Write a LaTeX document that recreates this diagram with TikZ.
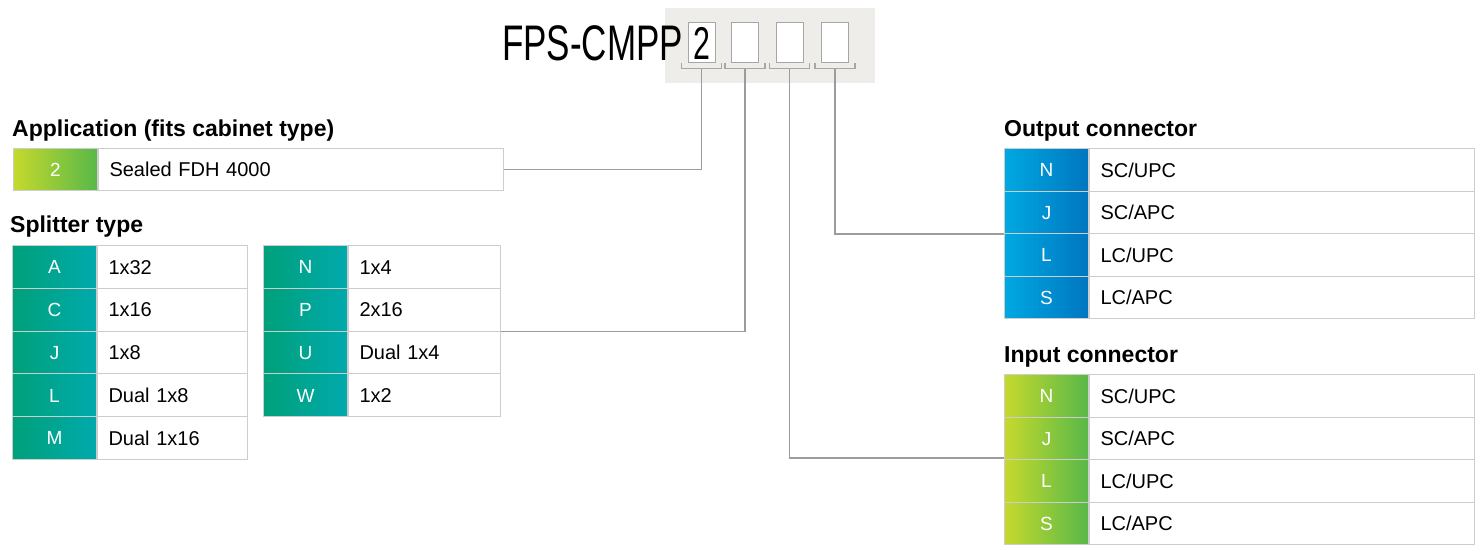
\documentclass[tikz,border=0pt]{standalone}
\usepackage{fontspec}
\setmainfont{Liberation Sans}
\definecolor{bgtitle}{HTML}{EFEDEA}
\definecolor{boxline}{HTML}{A6A6A6}
\definecolor{cellline}{HTML}{CDCDCD}
\definecolor{conn}{HTML}{9C9C9C}
\definecolor{grL}{HTML}{C6D92D}
\definecolor{grR}{HTML}{58B849}
\definecolor{tlL}{HTML}{00A07A}
\definecolor{tlR}{HTML}{00AAAC}
\definecolor{blL}{HTML}{00A8E2}
\definecolor{blR}{HTML}{0076C0}
\newcommand\titlefnt{\fontsize{50}{56}\selectfont}
\newcommand\twofnt{\fontsize{46}{52}\selectfont}
\newcommand\headfnt{\fontsize{23}{27}\selectfont\bfseries}
\newcommand\bodyfnt{\fontsize{20}{24}\selectfont}
\newcommand\codefnt{\fontsize{19}{23}\selectfont}
\begin{document}
\begin{tikzpicture}[x=1pt,y=-1pt,
  codecell/.style={draw=cellline, line width=1pt, anchor=north west, inner sep=0pt,
    minimum width=84, text=white, font=\codefnt, text height=13.5, text depth=0},
  desccell/.style={draw=cellline, line width=1pt, fill=white, anchor=north west,
    inner xsep=11, inner ysep=0, align=left, font=\bodyfnt, text height=14.5, text depth=0},
  green/.style={left color=grL, right color=grR},
  teal/.style={left color=tlL, right color=tlR},
  blue/.style={left color=blL, right color=blR},
  heading/.style={anchor=base west, inner sep=0pt, font=\headfnt},
  pbox/.style={draw=boxline, line width=1pt, fill=white, minimum width=27, minimum height=40, inner sep=0pt},
  bracket/.style={draw=boxline, line width=1.2pt},
  connector/.style={draw=conn, line width=1.2pt}]
\useasboundingbox (0,0) rectangle (1481,546);

% ---- title block ----
\fill[bgtitle] (665,8) rectangle (875,83);
\node[anchor=base west, inner sep=0pt, font=\titlefnt] (title) at (502,60) {\scalebox{0.7}[1]{FPS-CMPP}};
\node[pbox] (pb1) at (701.5,42) {};
\node[pbox] (pb2) at (745,42) {};
\node[pbox] (pb3) at (789.5,42) {};
\node[pbox] (pb4) at (835,42) {};
\node[inner sep=0pt, font=\twofnt] (two) at (701.5,43) {\scalebox{0.66}[1]{2}};
\foreach \k in {1,2,3,4}{
  \draw[bracket] ([xshift=-6pt]pb\k.south west) -- ([xshift=-6pt,yshift=-6pt]pb\k.south west)
     -- ([xshift=6pt,yshift=-6pt]pb\k.south east) -- ([xshift=6pt]pb\k.south east);
  \coordinate (br\k) at ([yshift=-6pt]pb\k.south);
}

% ---- application ----
\node[heading] (apph) at (12,136) {Application (fits cabinet type)};
\node[codecell, green, minimum height=42] (app2) at (13,148) {2};
\node[desccell, minimum height=42, text width=383] (app2d) at (app2.north east) {Sealed FDH 4000};

% ---- splitter type ----
\node[heading] (sph) at (10,232) {Splitter type};
\foreach \c/\t [count=\i from 0] in {A/1x32,C/1x16,J/1x8,L/Dual 1x8,M/Dual 1x16}{
  \node[codecell, teal, minimum height=42.8] (sa\c) at (12,{245+42.8*\i}) {\c};
  \node[desccell, minimum height=42.8, text width=128] (sad\c) at (sa\c.north east) {\t};
}
\foreach \c/\t [count=\i from 0] in {N/1x4,P/2x16,U/Dual 1x4,W/1x2}{
  \node[codecell, teal, minimum height=42.8] (sb\c) at (263,{245+42.8*\i}) {\c};
  \node[desccell, minimum height=42.8, text width=130] (sbd\c) at (sb\c.north east) {\t};
}

% ---- output connector ----
\node[heading] (outh) at (1004,136) {Output connector};
\foreach \c/\t [count=\i from 0] in {N/SC\slash UPC,J/SC\slash APC,L/LC\slash UPC,S/LC\slash APC}{
  \node[codecell, blue, minimum height=42.5] (out\c) at (1004,{148+42.5*\i}) {\c};
  \node[desccell, minimum height=42.5, text width=363] (outd\c) at (out\c.north east) {\t};
}

% ---- input connector ----
\node[heading] (inh) at (1004,362) {Input connector};
\foreach \c/\t [count=\i from 0] in {N/SC\slash UPC,J/SC\slash APC,L/LC\slash UPC,S/LC\slash APC}{
  \node[codecell, green, minimum height=42.5] (in\c) at (1004,{374+42.5*\i}) {\c};
  \node[desccell, minimum height=42.5, text width=363] (ind\c) at (in\c.north east) {\t};
}

% ---- connectors ----
\draw[connector] (br1) |- (app2d.east);
\draw[connector] (br2) |- (sbdP.south east);
\draw[connector] (br3) |- ([yshift=2pt]inJ.south west);
\draw[connector] (br4) |- (outJ.south west);
\end{tikzpicture}
\end{document}
